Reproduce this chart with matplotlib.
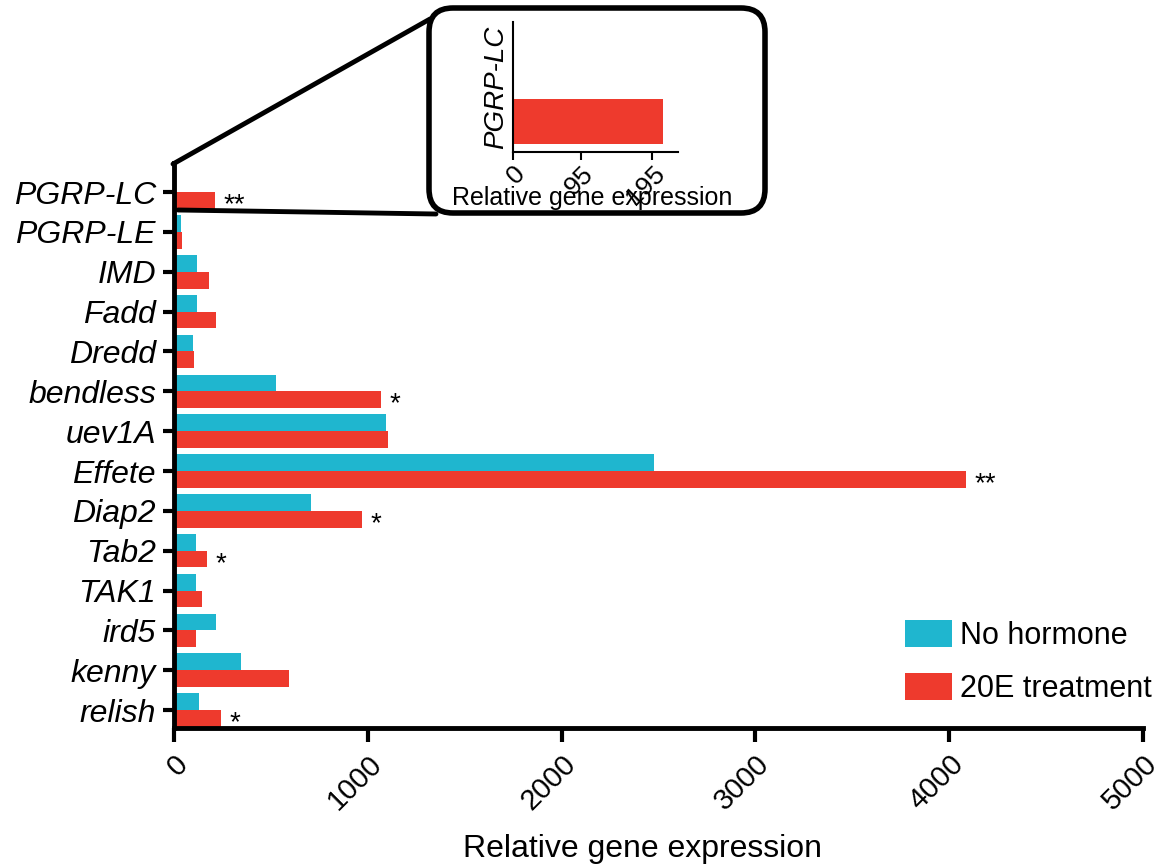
import matplotlib
matplotlib.use("Agg")
import matplotlib.pyplot as plt
from matplotlib.patches import FancyBboxPatch
import numpy as np

plt.rcParams['font.family'] = ['Liberation Sans', 'DejaVu Sans']

genes = ['PGRP-LC', 'PGRP-LE', 'IMD', 'Fadd', 'Dredd', 'bendless', 'uev1A',
         'Effete', 'Diap2', 'Tab2', 'TAK1', 'ird5', 'kenny', 'relish']
no_hormone = [2, 36, 119, 119, 98, 526, 1094, 2477, 707, 114, 114, 217, 346, 129]
treatment = [210, 41, 180, 217, 103, 1068, 1104, 4087, 970, 170, 145, 114, 593, 242]
stars = ['**', '', '', '', '', '*', '', '**', '*', '*', '', '', '', '*']
xticks = [0, 1000, 2000, 3000, 4000, 5000]
inset_ticks = [0, 95, 195]

blue = '#1fb6cf'
red = '#ee3a2d'

W, H = 1166, 867
fig = plt.figure(figsize=(W / 100, H / 100), dpi=100)

# main chart
ax = fig.add_axes([174 / W, 1 - 728 / H, (1143 - 174) / W, (728 - 163) / H])
ax.patch.set_alpha(0)
y = np.arange(len(genes))
h = 0.42
ax.barh(y - h / 2, no_hormone, height=h, color=blue, label='No hormone')
ax.barh(y + h / 2, treatment, height=h, color=red, label='20E treatment')
for yi, v, s in zip(y, treatment, stars):
    if s:
        ax.text(v + 45, yi + h / 2 + 0.12, s, fontsize=20, ha='left', va='center')

ax.set_ylim(13.45, -0.73)
ax.set_xlim(0, 5000)
ax.set_yticks(y)
ax.set_yticklabels(genes, fontsize=23, style='italic')
ax.set_xticks(xticks)
ax.set_xticklabels([str(t) for t in xticks], fontsize=21, rotation=45,
                   ha='right', va='top', rotation_mode='anchor')
ax.set_xlabel('Relative gene expression', fontsize=23, va='center')
ax.xaxis.set_label_coords(0.483, -0.215)
for side in ['top', 'right']:
    ax.spines[side].set_visible(False)
for side in ['left', 'bottom']:
    ax.spines[side].set_linewidth(3.5)
ax.tick_params(axis='y', length=8, width=3, pad=5)
ax.tick_params(axis='x', length=10, width=3, pad=6)

ax.legend(loc='upper left', bbox_to_anchor=(905 / W, 1 - 620 / H),
          bbox_transform=fig.transFigure, frameon=False, fontsize=22,
          handlelength=1.55, handleheight=1.0, labelspacing=0.7,
          handletextpad=0.25, borderpad=0, borderaxespad=0)

# overlay in pixel coordinates for the zoom box and connector lines
ov = fig.add_axes([0, 0, 1, 1], zorder=5)
ov.set_xlim(0, W)
ov.set_ylim(H, 0)
ov.axis('off')
box = FancyBboxPatch((429, 8), 336, 205, boxstyle='round,pad=0,rounding_size=24',
                     fill=False, linewidth=4, edgecolor='black')
ov.add_patch(box)
ov.plot([173, 430], [164, 19], color='black', linewidth=3.5, solid_capstyle='round')
ov.plot([178, 436], [210, 214], color='black', linewidth=3.5, solid_capstyle='round')

# inset
ins = fig.add_axes([513 / W, 1 - 152 / H, (678 - 513) / W, (152 - 22) / H], zorder=6)
ins.patch.set_alpha(0)
ins.barh([0.395], no_hormone[:1], height=0.68, color=blue)
ins.barh([-0.395], treatment[:1], height=0.68, color=red)
ins.set_ylim(-0.865, 1.135)
ins.set_xlim(0, 231)
ins.set_yticks([])
ins.set_ylabel(genes[0], fontsize=20, style='italic', labelpad=3)
ins.set_xticks(inset_ticks)
ins.set_xticklabels([str(t) for t in inset_ticks], fontsize=19, rotation=45,
                    ha='right', va='top', rotation_mode='anchor')
ins.set_xlabel('Relative gene expression', fontsize=18, va='center')
ins.xaxis.set_label_coords(0.48, -0.35)
for side in ['top', 'right']:
    ins.spines[side].set_visible(False)
for side in ['left', 'bottom']:
    ins.spines[side].set_linewidth(1.5)
ins.tick_params(axis='x', length=6, width=1.5, pad=1)

fig.savefig('out.png', dpi=100)
